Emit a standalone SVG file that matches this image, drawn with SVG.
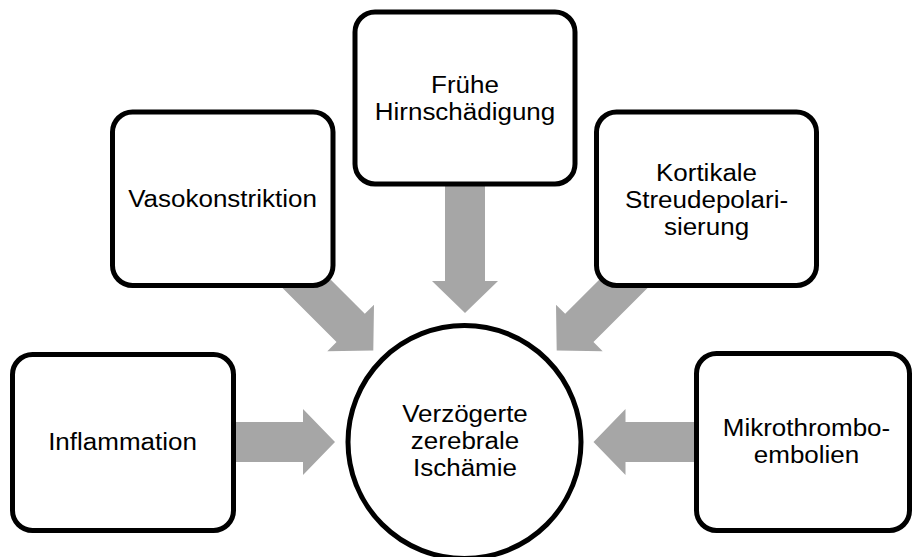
<svg xmlns="http://www.w3.org/2000/svg" xmlns:xlink="http://www.w3.org/1999/xlink" width="912" height="557" viewBox="0 0 912 557">
  <style>
    .box { fill: #ffffff; stroke: #000000; stroke-width: 5; }
    .lbl { font-family: "Liberation Sans", Arial, sans-serif; font-size: 24px; fill: #000000; text-anchor: middle; }
    .arr { fill: #A6A6A6; stroke: none; }
  </style>
  <defs>
    <path id="arrow" class="arr" d="M0,0 L-32,-33 L-32,-20 L-160,-20 L-160,20 L-32,20 L-32,33 Z"/>
  </defs>
  <rect width="912" height="557" fill="#ffffff"/>
  <g id="connectors">
    <use xlink:href="#arrow" href="#arrow" transform="translate(335,442)"/>
    <use xlink:href="#arrow" href="#arrow" transform="translate(593.5,442) rotate(180)"/>
    <use xlink:href="#arrow" href="#arrow" transform="translate(465,313) rotate(90)"/>
    <use xlink:href="#arrow" href="#arrow" transform="translate(373.3,350.6) rotate(45)"/>
    <use xlink:href="#arrow" href="#arrow" transform="translate(556.7,350.6) rotate(135)"/>
  </g>
  <g id="node-inflammation">
    <rect class="box" x="12.5" y="354.5" width="221" height="176" rx="20"/>
    <g transform="translate(122.5,0) scale(1.083,1)">
      <text class="lbl" x="0" y="450">Inflammation</text>
    </g>
  </g>
  <g id="node-vasokonstriktion">
    <rect class="box" x="112.5" y="112" width="220.5" height="173.5" rx="20"/>
    <g transform="translate(222.5,0) scale(1.083,1)">
      <text class="lbl" x="0" y="207">Vasokonstriktion</text>
    </g>
  </g>
  <g id="node-fruehe">
    <rect class="box" x="355" y="12" width="220" height="172" rx="20"/>
    <g transform="translate(465,0) scale(1.083,1)">
      <text class="lbl" x="0" y="93.5">Frühe</text>
      <text class="lbl" x="0" y="120.5">Hirnschädigung</text>
    </g>
  </g>
  <g id="node-kortikale">
    <rect class="box" x="596.5" y="112" width="220" height="173.5" rx="20"/>
    <g transform="translate(706.5,0) scale(1.083,1)">
      <text class="lbl" x="0" y="181.5">Kortikale</text>
      <text class="lbl" x="0" y="208.5">Streudepolari-</text>
      <text class="lbl" x="0" y="235.5">sierung</text>
    </g>
  </g>
  <g id="node-mikro">
    <rect class="box" x="696.5" y="353.5" width="213" height="177" rx="20"/>
    <g transform="translate(806.5,0) scale(1.083,1)">
      <text class="lbl" x="0" y="436.5">Mikrothrombo-</text>
      <text class="lbl" x="0" y="463.5">embolien</text>
    </g>
  </g>
  <g id="node-dci">
    <circle class="box" cx="464.5" cy="442" r="116.5"/>
    <g transform="translate(465,0) scale(1.083,1)">
      <text class="lbl" x="0" y="422">Verzögerte</text>
      <text class="lbl" x="0" y="449">zerebrale</text>
      <text class="lbl" x="0" y="476">Ischämie</text>
    </g>
  </g>
</svg>
